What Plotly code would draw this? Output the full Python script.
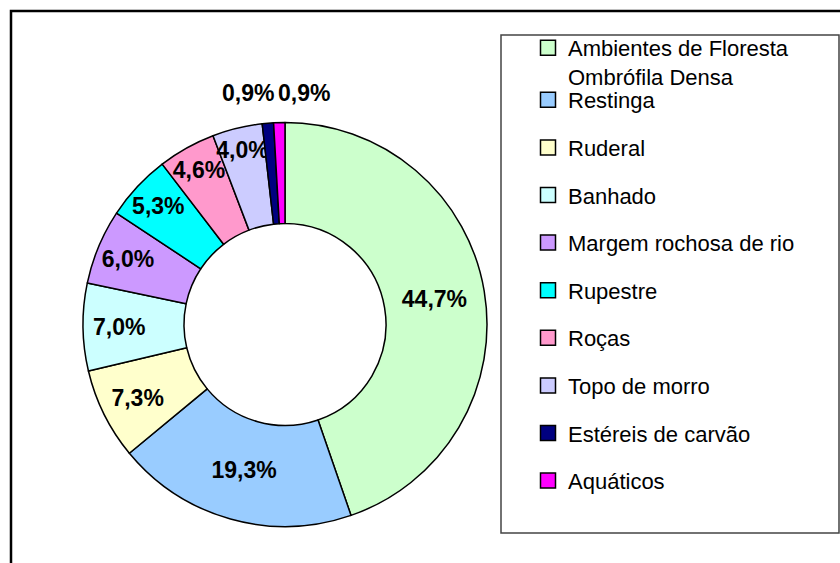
import math
import plotly.graph_objects as go

categories = ["Ambientes de Floresta Ombrófila Densa", "Restinga", "Ruderal", "Banhado",
              "Margem rochosa de rio", "Rupestre", "Roças", "Topo de morro",
              "Estéreis de carvão", "Aquáticos"]
legend_labels = ["Ambientes de Floresta<br>Ombrófila Densa", "Restinga", "Ruderal", "Banhado",
                 "Margem rochosa de rio", "Rupestre", "Roças", "Topo de morro",
                 "Estéreis de carvão", "Aquáticos"]
values = [44.7, 19.3, 7.3, 7.0, 6.0, 5.3, 4.6, 4.0, 0.9, 0.9]
colors = ["#CCFFCC", "#99CCFF", "#FFFFCC", "#CCFFFF", "#CC99FF",
          "#00FFFF", "#FF99CC", "#CCCCFF", "#000080", "#FF00FF"]
outside_min = 2.0  # slices smaller than this get their label above the ring

W, H = 840, 563
FONT = "Liberation Sans, Arial, sans-serif"

# pie domain in pixels
px_l, px_r, px_t, px_b = 83, 487, 122, 527
dom_x = [px_l / W, px_r / W]
dom_y = [(H - px_b) / H, (H - px_t) / H]

textpos = ["inside" if v >= outside_min else "none" for v in values]

fig = go.Figure()
fig.add_trace(go.Pie(
    labels=categories, values=values, sort=False, direction="clockwise", rotation=0,
    hole=0.5, marker=dict(colors=colors, line=dict(color="black", width=1.5)),
    texttemplate="%{percent:.1%}", textposition=textpos,
    insidetextorientation="horizontal",
    insidetextfont=dict(family=FONT, size=23, color="black", weight="bold"),
    showlegend=False, domain=dict(x=dom_x, y=dom_y), hoverinfo="label+percent",
))

# legend entries (one per category)
for i, (lab, col) in enumerate(zip(legend_labels, colors)):
    fig.add_trace(go.Scatter(
        x=[None], y=[None], mode="markers", name=lab,
        marker=dict(symbol="square", size=15, color=col, line=dict(color="black", width=1.5)),
        legend="legend" if i == 0 else "legend2", legendgroup=f"g{i}",
    ))

# labels for the tiny slices, placed above the ring, either side of their shared boundary
total = sum(values)
cx = (px_l + px_r) / 2
R = (px_r - px_l) / 2
small_idx = [i for i, v in enumerate(values) if v < outside_min]
cum_before = sum(values[:small_idx[0] + 1])
theta = 2 * math.pi * cum_before / total
bx = cx + R * math.sin(theta)
annotations = []
for k, i in enumerate(small_idx):
    txt = f"{values[i]:.1f}%".replace(".", ",")
    annotations.append(dict(
        x=(bx + 2) / W, y=(H - (px_t - 29)) / H, xref="paper", yref="paper",
        text=f"<b>{txt}</b>", showarrow=False, xanchor="right" if k == 0 else "left",
        yanchor="middle", font=dict(family=FONT, size=23, color="black"),
    ))

shapes = [
    dict(type="rect", xref="paper", yref="paper", x0=11 / W, x1=1.02, y0=-0.02, y1=(H - 11) / H,
         line=dict(color="black", width=2.5), layer="below"),
    dict(type="rect", xref="paper", yref="paper", x0=501 / W, x1=839 / W,
         y0=(H - 533) / H, y1=(H - 35) / H, line=dict(color="#444444", width=1.5), layer="below"),
]

legend_common = dict(
    xanchor="left", yanchor="top", bgcolor="rgba(0,0,0,0)", borderwidth=0,
    font=dict(family=FONT, size=22, color="black"), itemclick=False, itemdoubleclick=False,
)
fig.update_layout(
    width=W, height=H, margin=dict(l=0, r=0, t=0, b=0),
    paper_bgcolor="white", plot_bgcolor="white",
    separators=",.",
    xaxis=dict(visible=False), yaxis=dict(visible=False),
    uniformtext=dict(minsize=23, mode="show"),
    legend=dict(x=528 / W, y=(H - 27) / H, valign="top", **legend_common),
    legend2=dict(x=528 / W, y=(H - 79) / H, tracegroupgap=16, valign="middle", **legend_common),
    shapes=shapes, annotations=annotations,
)

fig.write_html("out.html", config={"displayModeBar": False},
               post_script="document.body.style.margin='0px';")
